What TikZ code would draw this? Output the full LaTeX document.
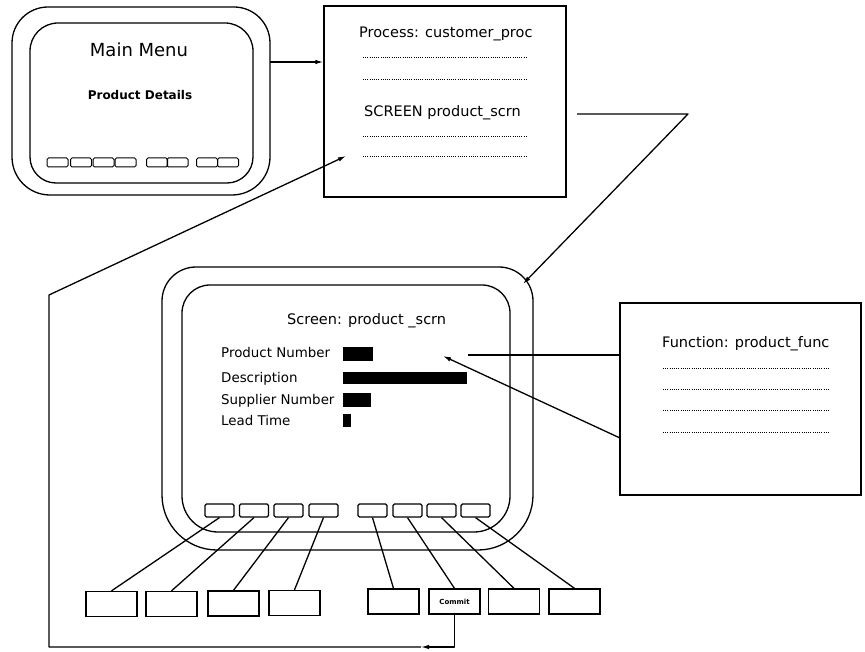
\documentclass[tikz,border=0pt]{standalone}
\usepackage{fontspec}
\setmainfont{DejaVu Sans}
\usetikzlibrary{arrows.meta}

\tikzset{
  line/.style={line width=1.3pt, line join=round},
  arr/.style={line, -{Latex[length=8pt,width=4.5pt]}},
  smallkey/.style={draw, line width=1pt, rounded corners=1.5pt, minimum width=21pt, minimum height=9pt, inner sep=0pt},
  bigkey/.style={draw, line width=1.2pt, rounded corners=1.5pt, minimum width=29pt, minimum height=13pt, inner sep=0pt},
  softkey/.style={draw, line width=1.3pt, minimum width=51pt, minimum height=25pt, inner sep=0pt},
  panel/.style={draw, line width=1.3pt, inner sep=0pt},
  txt/.style={inner sep=0pt, anchor=base west, font=\fontsize{13.4}{15}\selectfont},
  head/.style={txt, font=\fontsize{14.5}{16}\selectfont},
  dots/.style={line width=0.9pt, dash pattern=on 0.9pt off 1.3pt},
  bar/.style={fill=black},
}

% Rounded CRT outline: x1, y1, x2, y2, top radius, bottom radius (y grows downwards)
\newcommand\crtframe[6]{%
  \draw[line] (#1+#5,#2) -- (#3-#5,#2)
    arc[start angle=270, end angle=360, radius=#5] -- (#3,#4-#6)
    arc[start angle=0, end angle=90, radius=#6] -- (#1+#6,#4)
    arc[start angle=90, end angle=180, radius=#6] -- (#1,#2+#5)
    arc[start angle=180, end angle=270, radius=#5] -- cycle;}

\begin{document}
\begin{tikzpicture}[x=1pt,y=-1pt]
\useasboundingbox (0,0) rectangle (865,652);

% ---- main menu terminal ----
\crtframe{12}{7}{270}{195}{36}{38}
\crtframe{30}{23}{253}{183}{28}{26}
\node[inner sep=0pt, anchor=base, font=\fontsize{18}{20}\selectfont] (mm) at (139,57) {Main Menu};
\node[inner sep=0pt, anchor=base, font=\fontsize{12}{14}\selectfont\bfseries] (pd) at (140,100) {Product Details};
\foreach \x [count=\i] in {57.5,81,103.5,125.5,157,177.5,207,228}
  \node[smallkey] (s\i) at (\x,162.5) {};

% ---- process description ----
\node[panel, minimum width=242pt, minimum height=191pt] (proc) at (445,101.5) {};
\node[head] (ptitle) at (359,38) {Process: customer\_proc};
\node[head] (pscrn) at (364,117) {SCREEN product\_scrn};
\foreach \y in {57,79,136,156}
  \draw[dots] (363,\y) -- (527,\y);

% ---- product screen terminal ----
\crtframe{162}{267}{533}{550}{34}{55}
\crtframe{182}{285}{510}{532}{28}{36}
\node[head] (stitle) at (287,325) {Screen: product \_scrn};
\node[txt] (l1) at (221,358) {Product Number};
\node[txt] (l2) at (221,382) {Description};
\node[txt] (l3) at (221,404) {Supplier Number};
\node[txt] (l4) at (221,425) {Lead Time};
\fill[bar] (343,347) rectangle (373,361);
\fill[bar] (343,372) rectangle (467,384);
\fill[bar] (343,393) rectangle (371,407);
\fill[bar] (343,414) rectangle (351,427);
\foreach \x [count=\i] in {219.5,254,288.5,323.5,372.5,407.5,441.5,475.5}
  \node[bigkey] (k\i) at (\x,510.5) {};

% ---- soft keys below the screen ----
\node[softkey] (b1) at (111.5,604) {};
\node[softkey] (b2) at (171.5,604) {};
\node[softkey] (b3) at (233.5,603.5) {};
\node[softkey] (b4) at (294.5,603) {};
\node[softkey] (b5) at (393.5,601.5) {};
\node[softkey, font=\fontsize{7}{8}\selectfont\bfseries] (b6) at (454.5,601.5) {Commit};
\node[softkey] (b7) at (514,601.5) {};
\node[softkey] (b8) at (574.5,601.5) {};
\foreach \i in {1,...,8}
  \draw[line] (k\i.south) -- (b\i.north);

% ---- function description ----
\node[panel, minimum width=241pt, minimum height=192pt] (func) at (740.5,399) {};
\node[head] (ftitle) at (662,348) {Function: product\_func};
\foreach \y in {368,389,410,432}
  \draw[dots] (663,\y) -- (829,\y);

% ---- connectors ----
\coordinate (menuR) at (270,62);
\draw[arr] (menuR) -- (menuR -| proc.west);

\coordinate (scrnL) at (577,114);
\coordinate (bend) at (688,114);
\coordinate (bigTop) at (523,284);
\draw[arr] (scrnL) -- (bend) -- (bigTop);

\coordinate (fnA) at (468,355);
\draw[line] (fnA) -- (fnA -| func.west);
\coordinate (fnB) at (620,438);
\coordinate (pnTip) at (443,356);
\draw[arr] (fnB) -- (pnTip);

\coordinate (retMid) at (421,647);
\coordinate (retL) at (49,647);
\coordinate (retUp) at (49,295);
\coordinate (procIn) at (346,156);
\draw[arr] (b6.south) |- (retMid);
\draw[arr] (retMid) -- (retL) -- (retUp) -- (procIn);
\end{tikzpicture}
\end{document}
